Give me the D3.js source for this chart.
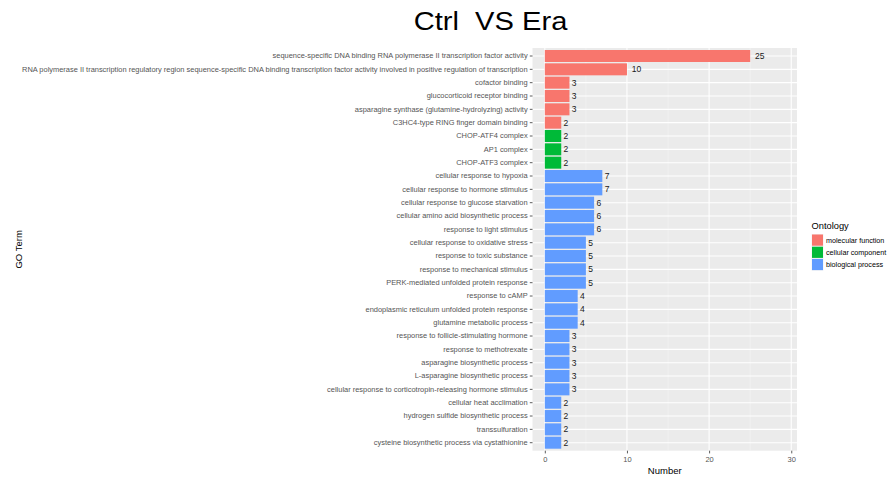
<!DOCTYPE html>
<html>
<head>
<meta charset="utf-8">
<script src="https://cdn.jsdelivr.net/npm/d3@7"></script>
<style>
  html, body { margin: 0; padding: 0; background: #ffffff; }
  svg { display: block; font-family: "Liberation Sans", Arial, Helvetica, sans-serif; }
</style>
</head>
<body>
<svg id="chart" width="891" height="477"></svg>
<script>
const categories = [
  "sequence-specific DNA binding RNA polymerase II transcription factor activity",
  "RNA polymerase II transcription regulatory region sequence-specific DNA binding transcription factor activity involved in positive regulation of transcription",
  "cofactor binding",
  "glucocorticoid receptor binding",
  "asparagine synthase (glutamine-hydrolyzing) activity",
  "C3HC4-type RING finger domain binding",
  "CHOP-ATF4 complex",
  "AP1 complex",
  "CHOP-ATF3 complex",
  "cellular response to hypoxia",
  "cellular response to hormone stimulus",
  "cellular response to glucose starvation",
  "cellular amino acid biosynthetic process",
  "response to light stimulus",
  "cellular response to oxidative stress",
  "response to toxic substance",
  "response to mechanical stimulus",
  "PERK-mediated unfolded protein response",
  "response to cAMP",
  "endoplasmic reticulum unfolded protein response",
  "glutamine metabolic process",
  "response to follicle-stimulating hormone",
  "response to methotrexate",
  "asparagine biosynthetic process",
  "L-asparagine biosynthetic process",
  "cellular response to corticotropin-releasing hormone stimulus",
  "cellular heat acclimation",
  "hydrogen sulfide biosynthetic process",
  "transsulfuration",
  "cysteine biosynthetic process via cystathionine"
];
const counts = [25, 10, 3, 3, 3, 2, 2, 2, 2, 7, 7, 6, 6, 6, 5, 5, 5, 5, 4, 4, 4, 3, 3, 3, 3, 3, 2, 2, 2, 2];
const ontology = [
  "molecular function", "molecular function", "molecular function", "molecular function", "molecular function", "molecular function",
  "cellular component", "cellular component", "cellular component",
  "biological process", "biological process", "biological process", "biological process", "biological process", "biological process",
  "biological process", "biological process", "biological process", "biological process", "biological process", "biological process",
  "biological process", "biological process", "biological process", "biological process", "biological process", "biological process",
  "biological process", "biological process", "biological process"
];
const ontologyLevels = ["molecular function", "cellular component", "biological process"];
const ontologyColors = ["#F8766D", "#00BA38", "#619CFF"];
const xTicks = [0, 10, 20, 30];
const xMinorTicks = [5, 15, 25];
const titleText = "Ctrl\u00a0\u00a0VS Era";

const svg = d3.select("#chart");

const panel = { left: 532.5, right: 797, top: 48, bottom: 450.7 };

const x = d3.scaleLinear().domain([-1.5, 30.7]).range([panel.left, panel.right]);
const y = d3.scaleBand().domain(categories).range([panel.top, panel.bottom])
  .paddingInner(0.1).paddingOuter(0.15);
const color = d3.scaleOrdinal().domain(ontologyLevels).range(ontologyColors);

const data = categories.map((c, i) => ({ term: c, n: counts[i], ont: ontology[i] }));

// title (source image is slightly stretched horizontally)
svg.append("text")
  .attr("transform", "translate(490.5,30) scale(1.12,1)")
  .attr("text-anchor", "middle")
  .attr("font-size", 26)
  .attr("fill", "#000")
  .text(titleText);

// panel background
svg.append("rect")
  .attr("x", panel.left).attr("y", panel.top)
  .attr("width", panel.right - panel.left).attr("height", panel.bottom - panel.top)
  .attr("fill", "#EBEBEB");

// minor grid
svg.append("g").selectAll("line").data(xMinorTicks).join("line")
  .attr("x1", d => x(d)).attr("x2", d => x(d))
  .attr("y1", panel.top).attr("y2", panel.bottom)
  .attr("stroke", "#F5F5F5").attr("stroke-width", 0.6);

// major grid vertical
svg.append("g").selectAll("line").data(xTicks).join("line")
  .attr("x1", d => x(d)).attr("x2", d => x(d))
  .attr("y1", panel.top).attr("y2", panel.bottom)
  .attr("stroke", "#FFFFFF").attr("stroke-width", 1.1);

// major grid horizontal
svg.append("g").selectAll("line").data(categories).join("line")
  .attr("x1", panel.left).attr("x2", panel.right)
  .attr("y1", d => y(d) + y.bandwidth() / 2).attr("y2", d => y(d) + y.bandwidth() / 2)
  .attr("stroke", "#FFFFFF").attr("stroke-width", 1.1);

// bars
svg.append("g").selectAll("rect").data(data).join("rect")
  .attr("x", x(0))
  .attr("y", d => y(d.term))
  .attr("width", d => x(d.n) - x(0))
  .attr("height", y.bandwidth())
  .attr("fill", d => color(d.ont));

// value labels (hjust = -0.5)
const vl = svg.append("g").selectAll("text").data(data).join("text")
  .attr("y", d => y(d.term) + y.bandwidth() / 2)
  .attr("dy", "0.35em")
  .attr("font-size", 8.5)
  .attr("fill", "#1a1a1a")
  .text(d => d.n);
vl.each(function(d) {
  const w = this.getComputedTextLength();
  d3.select(this).attr("x", x(d.n) + 0.5 * w);
});

// y axis
const yAxis = d3.axisLeft(y).tickSize(2.7).tickPadding(2.2);
const gy = svg.append("g").attr("transform", `translate(${panel.left},0)`).call(yAxis);
gy.select(".domain").remove();
gy.selectAll(".tick line").attr("stroke", "#333333").attr("stroke-width", 0.8);
gy.selectAll(".tick text").attr("font-size", 7.45).attr("fill", "#555555")
  .attr("font-family", "'Liberation Sans', Arial, sans-serif");

// x axis
const xAxis = d3.axisBottom(x).tickValues(xTicks).tickSize(2.7).tickPadding(3.5);
const gx = svg.append("g").attr("transform", `translate(0,${panel.bottom})`).call(xAxis);
gx.select(".domain").remove();
gx.selectAll(".tick line").attr("stroke", "#333333").attr("stroke-width", 0.8);
gx.selectAll(".tick text").attr("font-size", 7.5).attr("fill", "#555555")
  .attr("font-family", "'Liberation Sans', Arial, sans-serif");

// axis titles
svg.append("text")
  .attr("x", (panel.left + panel.right) / 2).attr("y", 474)
  .attr("text-anchor", "middle").attr("font-size", 9.5).attr("fill", "#000")
  .text("Number");
svg.append("text")
  .attr("transform", `translate(21.5,${(panel.top + panel.bottom) / 2}) rotate(-90)`)
  .attr("text-anchor", "middle").attr("font-size", 9.5).attr("fill", "#000")
  .text("GO Term");

// legend
const lg = svg.append("g").attr("transform", "translate(811.5,0)");
lg.append("text").attr("x", 0).attr("y", 229).attr("font-size", 9.3).attr("fill", "#000").text("Ontology");
const keyH = 12.2;
const items = lg.selectAll("g.item").data(ontologyLevels).join("g")
  .attr("class", "item")
  .attr("transform", (d, i) => `translate(0,${234 + i * keyH})`);
items.append("rect").attr("width", 12).attr("height", keyH)
  .attr("fill", "#F2F2F2");
items.append("rect").attr("x", 0.5).attr("y", 0.5).attr("width", 11).attr("height", keyH - 1)
  .attr("fill", d => color(d));
items.append("text").attr("x", 14.5).attr("y", keyH / 2).attr("dy", "0.35em")
  .attr("font-size", 7.2).attr("fill", "#000").text(d => d);
</script>
</body>
</html>
